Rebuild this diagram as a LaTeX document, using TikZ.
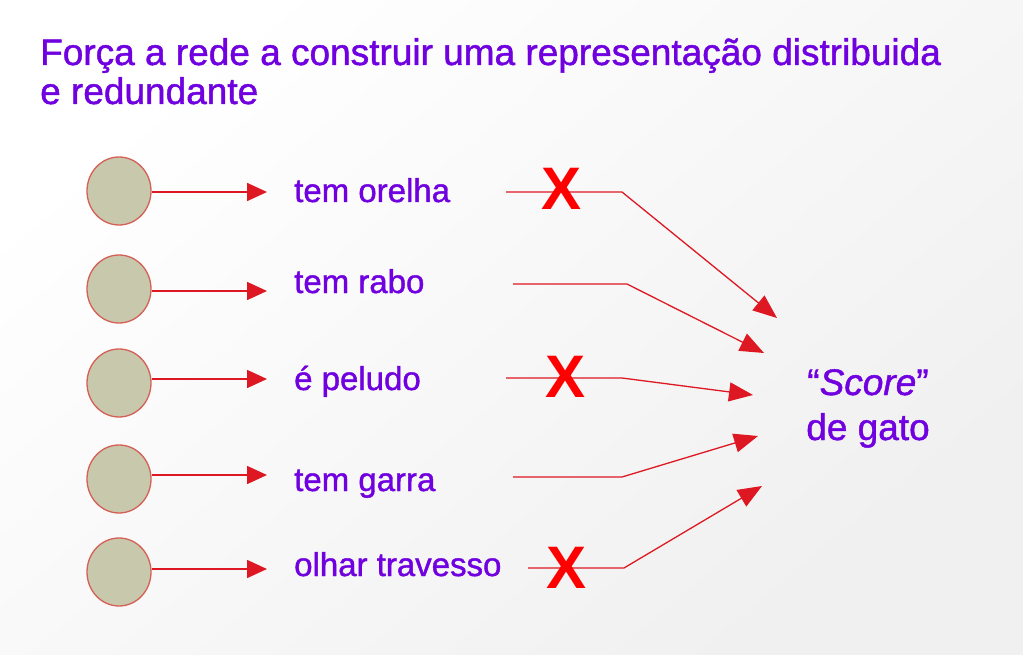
\documentclass[tikz,border=0pt]{standalone}
\usepackage{fontspec}
\setmainfont{Liberation Sans}
\newfontfamily\heavyfont{Liberation Sans}[FakeBold=1.2]
\usetikzlibrary{arrows.meta,shapes.geometric}
\definecolor{txtpurple}{RGB}{112,0,224}
\definecolor{arrred}{RGB}{222,24,34}
\definecolor{cellfill}{RGB}{200,200,172}
\definecolor{cellline}{RGB}{212,96,86}
\begin{document}
\begin{tikzpicture}[x=1pt,y=-1pt,
  unit/.style={ellipse,draw=cellline,fill=cellfill,line width=1.3pt,minimum width=64pt,minimum height=68pt,inner sep=0pt},
  feat/.style={anchor=base west,inner sep=0pt,text=txtpurple,font=\heavyfont\fontsize{33}{40}\selectfont},
  arr/.style={draw=arrred,line width=1.6pt,-{Triangle[length=20pt,width=18pt]}},
  wire/.style={draw=arrred,line width=1.3pt,-{Triangle[length=24pt,width=19pt]}},
  cross/.style={text=red,font=\fontsize{60}{60}\selectfont\bfseries,inner sep=0pt}]
\useasboundingbox (0,0) rectangle (1023,655);
\shade[top color=white,bottom color=black!6,shading angle=40] (0,0) rectangle (1023,655);

% title
\node[anchor=base west,inner sep=0pt,align=left,text=txtpurple,
      font=\heavyfont\fontsize{37}{39}\selectfont] (title) at (40,104)
  {Força a rede a construir uma representação distribuida\\e redundante};

% units
\node[unit] (c1) at (119,191) {};
\node[unit] (c2) at (119,289) {};
\node[unit] (c3) at (119,383) {};
\node[unit] (c4) at (119,479) {};
\node[unit] (c5) at (119,572) {};

% arrow ends
\coordinate (a1) at (267,192);
\coordinate (a2) at (267,291);
\coordinate (a3) at (267,379);
\coordinate (a4) at (267,475);
\coordinate (a5) at (267,569);

\draw[arr] (a1 -| c1.east) -- (a1);
\draw[arr] (a2 -| c2.east) -- (a2);
\draw[arr] (a3 -| c3.east) -- (a3);
\draw[arr] (a4 -| c4.east) -- (a4);
\draw[arr] (a5 -| c5.east) -- (a5);

% features
\node[feat] (l1) at (294,202) {tem orelha};
\node[feat] (l2) at (294,293) {tem rabo};
\node[feat] (l3) at (294,390) {é peludo};
\node[feat] (l4) at (294,491) {tem garra};
\node[feat] (l5) at (294,576) {olhar travesso};

% output
\node[anchor=base,inner sep=0pt,align=center,text=txtpurple,
      font=\heavyfont\fontsize{37}{45}\selectfont] (score) at (868,440)
  {“\textit{Score}”\\de gato};

% wires
\coordinate (s1) at (506,192); \coordinate (b1) at (622,192); \coordinate (t1) at (777,318);
\coordinate (s2) at (513,284); \coordinate (b2) at (627,284); \coordinate (t2) at (764,353);
\coordinate (s3) at (506,378); \coordinate (b3) at (622,378); \coordinate (t3) at (753,395);
\coordinate (s4) at (513,477); \coordinate (b4) at (622,477); \coordinate (t4) at (758,436);
\coordinate (s5) at (528,568); \coordinate (b5) at (624,568); \coordinate (t5) at (762,486);

\draw[wire] (s1) -- (b1) -- (t1);
\draw[wire] (s2) -- (b2) -- (t2);
\draw[wire] (s3) -- (b3) -- (t3);
\draw[wire] (s4) -- (b4) -- (t4);
\draw[wire] (s5) -- (b5) -- (t5);

% crosses
\node[cross] (x1) at (562,189) {X};
\node[cross] (x3) at (566,377) {X};
\node[cross] (x5) at (567,568) {X};
\end{tikzpicture}
\end{document}
